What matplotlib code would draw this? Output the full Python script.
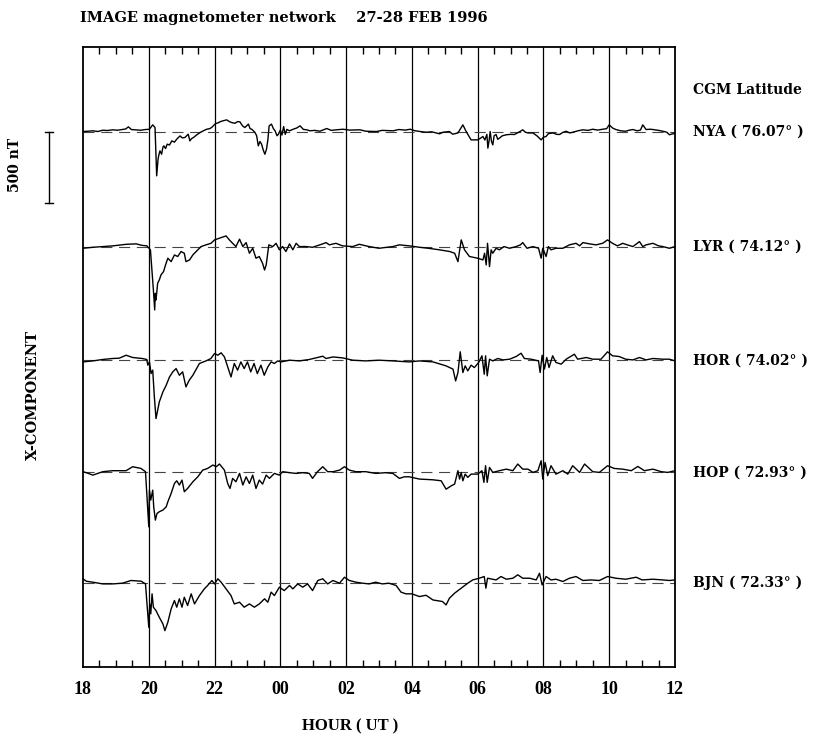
import matplotlib
matplotlib.use("Agg")
import matplotlib.pyplot as plt
import matplotlib.transforms as mtransforms
from matplotlib.ticker import MultipleLocator, FixedLocator

plt.rcParams['font.family'] = ['DejaVu Serif']
plt.rcParams['font.weight'] = 'bold'
plt.rcParams['axes.labelweight'] = 'bold'

# ---------------- data (hours since 18 UT on 27 Feb, X deviation in nT) ----------------
stations = ["NYA", "LYR", "HOR", "HOP", "BJN"]
latitudes = ["76.07", "74.12", "74.02", "72.93", "72.33"]
offsets = [3770, 2960, 2160, 1370, 590]   # baseline of each trace (nT)
tick_hours = [18, 20, 22, 24, 26, 28, 30, 32, 34, 36]
tick_labels = ["18", "20", "22", "00", "02", "04", "06", "08", "10", "12"]

nya_t = [18.00, 18.15, 18.30, 18.45, 18.60, 18.75, 18.90, 19.05, 19.20, 19.30, 19.38, 19.47, 19.60, 19.75, 19.90,
         20.02, 20.12, 20.19, 20.24, 20.28, 20.30, 20.34, 20.39, 20.43, 20.46, 20.51, 20.56, 20.63, 20.70, 20.78,
         20.85, 20.95, 21.02, 21.10, 21.20, 21.25, 21.30, 21.36, 21.45, 21.56, 21.66, 21.76, 21.85, 21.91, 22.03,
         22.10, 22.16, 22.25, 22.37, 22.45, 22.52, 22.62, 22.70, 22.77, 22.85, 22.92, 23.03, 23.08, 23.13, 23.23,
         23.28, 23.33, 23.38, 23.43, 23.48, 23.53, 23.58, 23.62, 23.66, 23.73, 23.79, 23.84, 23.90, 23.94, 24.00,
         24.05, 24.10, 24.15, 24.20, 24.28, 24.39, 24.50, 24.60, 24.70, 24.80, 24.90, 25.05, 25.20, 25.41, 25.55,
         25.70, 25.91, 26.10, 26.42, 26.60, 26.92, 27.10, 27.43, 27.60, 27.80, 27.95, 28.10, 28.25, 28.43, 28.60,
         28.84, 28.95, 29.14, 29.24, 29.40, 29.55, 29.65, 29.75, 29.80, 30.00, 30.10, 30.16, 30.22, 30.28, 30.31,
         30.35, 30.38, 30.42, 30.46, 30.50, 30.56, 30.61, 30.66, 30.75, 30.87, 31.00, 31.12, 31.25, 31.37, 31.45,
         31.53, 31.68, 31.80, 31.93, 32.00, 32.08, 32.15, 32.29, 32.40, 32.49, 32.60, 32.69, 32.80, 32.89, 33.05,
         33.20, 33.35, 33.50, 33.65, 33.80, 33.92, 34.00, 34.10, 34.20, 34.35, 34.50, 34.62, 34.72, 34.85, 34.95,
         35.02, 35.12, 35.25, 35.33, 35.50, 35.63, 35.75, 35.83, 36.00]
nya_x = [0, 2, 5, 0, 9, 7, 12, 9, 14, 18, 33, 14, 12, 9, 14,
         16, 47, 28, -312, -200, -171, -136, -160, -110, -101, -120, -89, -95, -66, -75,
         -54, -31, -45, -42, -19, -66, -50, -42, -25, -7, 5, 16, 20, 28, 56,
         60, 68, 75, 82, 70, 63, 58, 70, 68, 40, 28, 52, 20, 16, -7,
         -30, -101, -70, -89, -130, -160, -124, -60, 40, 52, 20, 5, -30, -19, 10,
         -25, 35, -20, 15, 5, 16, 25, 40, 15, 12, 5, 8, 2, 21, 8,
         12, 16, 10, 12, 2, 0, 8, 5, 14, 10, 16, 5, 0, -5, -2,
         -16, -5, 0, -19, -10, 47, 0, -40, -59, -59, -45, -35, -60, -20, -117,
         -60, 0, -70, -94, -30, -21, -55, -47, -30, -23, -20, -21, -5, 12, -5,
         -10, -10, -30, -59, -40, -35, -15, -10, -20, -21, -5, 2, -10, -5, 5,
         12, 8, 16, 10, 16, 20, 47, 25, 14, 5, 2, 10, 14, 5, 10,
         47, 14, 16, 14, 8, 2, -5, -23, -12]

lyr_t = [18.00, 18.30, 18.61, 18.91, 19.32, 19.62, 19.78, 19.94, 20.05, 20.14, 20.18, 20.20, 20.22, 20.27, 20.32,
         20.37, 20.45, 20.51, 20.58, 20.68, 20.78, 20.88, 20.98, 21.08, 21.13, 21.24, 21.34, 21.44, 21.59, 21.74,
         21.89, 22.00, 22.15, 22.35, 22.45, 22.55, 22.65, 22.76, 22.86, 22.96, 23.06, 23.16, 23.26, 23.36, 23.46,
         23.52, 23.57, 23.65, 23.77, 23.87, 23.97, 24.07, 24.17, 24.28, 24.38, 24.48, 24.58, 24.78, 24.98, 25.29,
         25.39, 25.49, 25.69, 25.89, 26.20, 26.40, 26.70, 27.00, 27.42, 27.62, 27.92, 28.23, 28.50, 28.84, 29.15,
         29.30, 29.40, 29.50, 29.60, 29.75, 30.00, 30.16, 30.21, 30.26, 30.30, 30.36, 30.41, 30.46, 30.56, 30.66,
         30.80, 30.97, 31.17, 31.30, 31.37, 31.50, 31.68, 31.85, 31.93, 31.98, 32.08, 32.15, 32.23, 32.38, 32.59,
         32.79, 32.99, 33.10, 33.20, 33.40, 33.60, 33.80, 33.95, 34.10, 34.25, 34.41, 34.55, 34.72, 34.92, 35.02,
         35.12, 35.33, 35.50, 35.63, 35.83, 36.00]
lyr_x = [-12, -5, 0, 5, 16, 19, 9, 5, -23, -305, -446, -329, -376, -258, -235,
         -200, -176, -129, -82, -106, -59, -70, -35, -47, -106, -94, -59, -35, 0, 12,
         23, 47, 59, 75, 47, 23, 0, 52, 0, 28, -47, -12, -82, -70, -118,
         -165, -129, 12, 0, 23, -23, 0, -35, 19, -23, 23, 0, 0, -5, 19,
         28, 12, 23, 5, 0, 16, 0, -12, 0, 12, 5, -5, -12, -23, -35,
         -47, -106, 47, -23, -70, -82, -94, -47, -129, 23, -141, -23, -47, -12, -23,
         0, -12, 0, 12, 28, -12, 0, -12, -82, -12, -70, 0, -23, -12, -12,
         12, 23, 5, 28, 19, 12, 23, 47, 23, 5, 23, 12, 0, 35, 0,
         12, 23, 5, 0, -12, 0]

hor_t = [18.00, 18.30, 18.60, 18.90, 19.10, 19.31, 19.51, 19.80, 19.94, 19.97, 20.02, 20.07, 20.12, 20.17, 20.22,
         20.27, 20.32, 20.43, 20.53, 20.63, 20.73, 20.83, 20.93, 21.03, 21.13, 21.23, 21.34, 21.54, 21.74, 21.89,
         22.00, 22.10, 22.20, 22.30, 22.40, 22.50, 22.60, 22.70, 22.80, 22.90, 23.00, 23.10, 23.20, 23.30, 23.41,
         23.51, 23.62, 23.72, 23.82, 23.92, 24.02, 24.28, 24.58, 24.88, 25.29, 25.39, 25.60, 25.90, 26.20, 26.60,
         27.00, 27.42, 27.92, 28.23, 28.64, 29.04, 29.25, 29.33, 29.40, 29.47, 29.55, 29.62, 29.70, 29.80, 29.90,
         30.03, 30.13, 30.20, 30.24, 30.29, 30.36, 30.46, 30.61, 30.77, 30.97, 31.17, 31.32, 31.42, 31.63, 31.85,
         31.90, 31.96, 32.03, 32.10, 32.17, 32.28, 32.38, 32.54, 32.69, 32.94, 33.04, 33.30, 33.50, 33.75, 33.95,
         34.10, 34.30, 34.50, 34.72, 34.92, 35.12, 35.33, 35.63, 35.83, 36.00]
hor_x = [-12, -5, 5, 12, 14, 35, 19, 12, 5, -35, -12, -94, -70, -259, -411,
         -353, -294, -223, -176, -118, -82, -59, -106, -82, -188, -141, -106, -23, -5, 12,
         47, 35, 52, 23, -47, -118, -23, -70, -12, -59, -12, -82, -23, -94, -35,
         -106, -47, -12, -23, -5, -12, 0, -5, 5, 28, 12, 23, 16, 0, -5,
         0, -5, -12, -5, -12, -40, -63, -146, -87, 59, -87, -40, -75, -35, -52,
         -16, 31, -99, 31, -110, 7, -5, 12, 2, 7, 26, 49, 12, 7, -5,
         -87, 35, -63, 19, -52, 31, -16, -28, 7, 42, 7, 19, 7, 7, 59,
         31, 26, 7, 2, 19, 2, 12, 7, 7, -5]

hop_t = [18.00, 18.10, 18.30, 18.60, 18.90, 19.31, 19.51, 19.76, 19.90, 20.00, 20.02, 20.06, 20.12, 20.15, 20.20,
         20.25, 20.32, 20.43, 20.53, 20.58, 20.68, 20.78, 20.85, 20.93, 21.01, 21.08, 21.18, 21.34, 21.49, 21.64,
         21.79, 21.95, 22.05, 22.15, 22.30, 22.40, 22.47, 22.55, 22.65, 22.76, 22.86, 22.96, 23.06, 23.16, 23.26,
         23.36, 23.46, 23.57, 23.67, 23.82, 23.97, 24.07, 24.28, 24.48, 24.68, 24.88, 24.98, 25.13, 25.29, 25.44,
         25.60, 25.80, 25.95, 26.10, 26.30, 26.60, 26.90, 27.20, 27.42, 27.62, 27.77, 27.92, 28.23, 28.64, 28.89,
         29.04, 29.20, 29.30, 29.40, 29.45, 29.50, 29.55, 29.62, 29.70, 29.80, 30.00, 30.13, 30.19, 30.24, 30.29,
         30.36, 30.46, 30.66, 30.87, 31.07, 31.22, 31.37, 31.53, 31.68, 31.83, 31.93, 31.98, 32.05, 32.13, 32.23,
         32.38, 32.59, 32.74, 32.89, 33.10, 33.25, 33.50, 33.70, 33.95, 34.15, 34.41, 34.67, 34.87, 35.07, 35.33,
         35.58, 35.78, 36.00]
hop_x = [5, -2, -19, 5, 12, 12, 40, 28, 5, -383, -125, -195, -125, -242, -336,
         -289, -277, -265, -242, -207, -148, -78, -59, -89, -54, -136, -113, -66, -31, 16,
         28, 52, 40, 59, 16, -78, -113, -42, -66, -7, -89, -31, -78, -19, -113,
         -54, -82, -19, -42, -7, -19, 5, -2, -7, -2, -7, -42, 5, 40, 5,
         5, 16, 40, 16, 5, 5, -7, -2, -7, -42, -31, -31, -47, -52, -59,
         -118, -94, -82, 12, -47, 0, -59, -12, -35, -12, -12, 12, -70, 47, -70,
         35, 0, 12, 23, 12, 59, 23, 23, 0, 12, 82, -47, 70, -23, 47,
         -12, 12, -12, 47, 0, 59, 5, 0, 47, 28, 23, 12, 42, 12, 23,
         5, 0, 12]

bjn_t = [18.00, 18.10, 18.30, 18.60, 18.90, 19.20, 19.46, 19.77, 19.90, 20.00, 20.03, 20.06, 20.10, 20.14, 20.22,
         20.32, 20.43, 20.49, 20.58, 20.68, 20.78, 20.85, 20.93, 21.01, 21.08, 21.18, 21.29, 21.39, 21.54, 21.69,
         21.79, 21.92, 22.00, 22.10, 22.20, 22.35, 22.50, 22.60, 22.76, 22.90, 23.06, 23.21, 23.36, 23.52, 23.62,
         23.72, 23.82, 23.97, 24.12, 24.28, 24.38, 24.53, 24.68, 24.83, 24.98, 25.14, 25.29, 25.44, 25.60, 25.80,
         25.95, 26.10, 26.30, 26.50, 26.70, 26.90, 27.10, 27.30, 27.52, 27.67, 27.82, 28.00, 28.23, 28.43, 28.64,
         28.93, 29.04, 29.14, 29.30, 29.50, 29.70, 29.85, 30.05, 30.20, 30.25, 30.30, 30.56, 30.71, 30.87, 31.07,
         31.22, 31.37, 31.58, 31.78, 31.88, 31.96, 32.08, 32.23, 32.38, 32.59, 32.79, 32.99, 33.20, 33.45, 33.70,
         33.95, 34.20, 34.50, 34.82, 35.00, 35.33, 35.63, 35.83, 36.00]
bjn_x = [31, 14, 7, -5, -5, 0, 19, 14, -5, -310, -146, -216, -75, -169, -193,
         -240, -287, -334, -275, -181, -122, -169, -110, -169, -99, -157, -75, -146, -87, -40,
         -16, 19, -5, 31, 7, -40, -87, -146, -134, -169, -146, -169, -146, -110, -134,
         -63, -87, -28, -52, -16, -40, -5, -28, -5, -52, 19, 31, -5, 19, 0,
         42, 19, 7, 0, -5, 7, -5, 0, -16, -63, -75, -75, -94, -85, -118,
         -129, -153, -106, -70, -35, 0, 23, 35, 47, -35, 35, 23, 47, 28, 35,
         59, 35, 35, 23, 70, -12, 47, 23, 28, 12, 35, 47, 19, 23, 19,
         47, 35, 28, 42, 23, 28, 23, 19, 23]

series_t = [nya_t, lyr_t, hor_t, hop_t, bjn_t]
series_x = [nya_x, lyr_x, hor_x, hop_x, bjn_x]

scale_bar_nT = 500

# ---------------- figure ----------------
W, H = 829, 735
fig = plt.figure(figsize=(W / 100, H / 100), dpi=100)
ax = fig.add_axes([83 / W, 1 - 667 / H, 592 / W, 620 / H])

ax.set_xlim(18, 36)
ax.set_ylim(0, 4365)

for h in tick_hours[1:-1]:
    ax.axvline(h, color='black', lw=0.9, zorder=1)

for off, t, x in zip(offsets, series_t, series_x):
    ax.axhline(off, color='#444444', lw=0.8, dashes=(10, 6), zorder=2)
    ax.plot(t, [off + v for v in x], color='black', lw=1.0, zorder=3)

ax.xaxis.set_major_locator(FixedLocator(tick_hours))
ax.set_xticklabels(tick_labels, family='Liberation Serif', fontweight='bold')
ax.xaxis.set_minor_locator(MultipleLocator(0.5))
ax.tick_params(axis='x', which='minor', direction='in', length=5, width=1.0, top=True, bottom=True)
ax.tick_params(axis='x', which='major', direction='in', length=0, pad=10, labelsize=13)
ax.set_yticks([])
for sp in ax.spines.values():
    sp.set_linewidth(1.3)

ax.set_xlabel("HOUR ( UT )", fontsize=12, fontweight='bold', family='Liberation Serif')
ax.xaxis.set_label_coords((350 - 83) / 592, -(718 - 667) / 620)

# station labels
trans_lab = mtransforms.blended_transform_factory(ax.transAxes, ax.transData)
for name, lat, off in zip(stations, latitudes, offsets):
    ax.text((693 - 83) / 592, off, f"{name} ( {lat}\u00b0 )", transform=trans_lab,
            ha='left', va='center', fontsize=10, clip_on=False)
fig.text(693 / W, 1 - 90 / H, "CGM Latitude", ha='left', va='center', fontsize=10)

# scale bar
bx = (49 - 83) / 592
y0 = offsets[0] - scale_bar_nT
ax.plot([bx, bx], [y0, offsets[0]], color='black', lw=1.0, transform=trans_lab, clip_on=False)
for yy in (y0, offsets[0]):
    ax.plot([bx - 0.006, bx + 0.006], [yy, yy], color='black', lw=1.0, transform=trans_lab, clip_on=False)
fig.text(15 / W, 1 - 165 / H, "500 nT", rotation=90, ha='center', va='center', fontsize=10)
fig.text(33 / W, 1 - 395 / H, "X-COMPONENT", rotation=90, ha='center', va='center', fontsize=10.5)

fig.text(80 / W, 1 - 18 / H, "IMAGE magnetometer network    27-28 FEB 1996", ha='left', va='center', fontsize=10.5)

fig.savefig("out.png", dpi=100)
